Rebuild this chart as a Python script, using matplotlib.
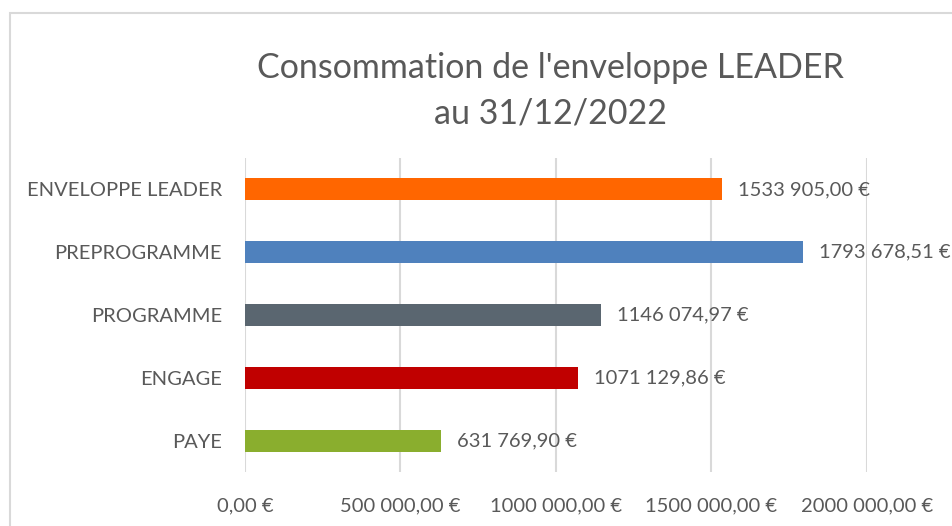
import matplotlib
matplotlib.use("Agg")
import matplotlib.pyplot as plt
from matplotlib.patches import Rectangle
from matplotlib.ticker import FuncFormatter

categories = ["ENVELOPPE LEADER", "PREPROGRAMME", "PROGRAMME", "ENGAGE", "PAYE"]
values = [1533905.00, 1793678.51, 1146074.97, 1071129.86, 631769.90]
colors = ["#FF6600", "#4F81BD", "#5A6670", "#C00000", "#8AAE2E"]
xticks = [0, 500000, 1000000, 1500000, 2000000]
title = "Consommation de l'enveloppe LEADER\nau 31/12/2022"

FONT = "Lato"
TXT = "#595959"


def fmt_eur(v, pos=None):
    cents = int(round(v * 100))
    n, c = divmod(cents, 100)
    if n >= 1000:
        ip = f"{n // 1000} {n % 1000:03d}"
    else:
        ip = str(n)
    return f"{ip},{c:02d} €"


W, H = 952, 526
fig = plt.figure(figsize=(W / 100, H / 100), dpi=100)
fig.patch.set_facecolor("white")

# chart-area border (partially visible, runs off right and bottom)
fig.patches.append(Rectangle((10 / W, -0.1), 1.2, 1.1 - 13 / H, transform=fig.transFigure,
                             fill=False, edgecolor="#D9D9D9", linewidth=1.5))

left, right = 245 / W, 867 / W
top, bottom = 1 - 158 / H, 1 - 472 / H
ax = fig.add_axes([left, bottom, right - left, top - bottom])

ypos = list(range(len(categories)))
ax.barh(ypos, values, height=0.35, color=colors, zorder=3)
ax.set_ylim(len(categories) - 0.5, -0.5)
ax.set_xlim(0, 2000000)
ax.set_yticks(ypos)
ax.set_yticklabels(categories)
ax.set_xticks(xticks)
ax.xaxis.set_major_formatter(FuncFormatter(fmt_eur))
ax.grid(axis="x", color="#D9D9D9", linewidth=1.5, zorder=0)
for s in ax.spines.values():
    s.set_visible(False)
ax.tick_params(axis="both", length=0, labelsize=14.5, labelcolor=TXT)
ax.tick_params(axis="y", pad=16.5)
ax.tick_params(axis="x", pad=18)
for lab in ax.get_xticklabels() + ax.get_yticklabels():
    lab.set_fontfamily(FONT)

for y, v in zip(ypos, values):
    ax.annotate(fmt_eur(v), xy=(v, y), xytext=(11.5, 0), textcoords="offset points",
                va="center", ha="left", fontsize=14.5, color=TXT, family=FONT,
                annotation_clip=False)

fig.text(550 / W, 1 - 91 / H, title, ha="center", va="center", fontsize=24.5,
         color=TXT, family=FONT, linespacing=1.5)

fig.savefig("out.png", dpi=100)
